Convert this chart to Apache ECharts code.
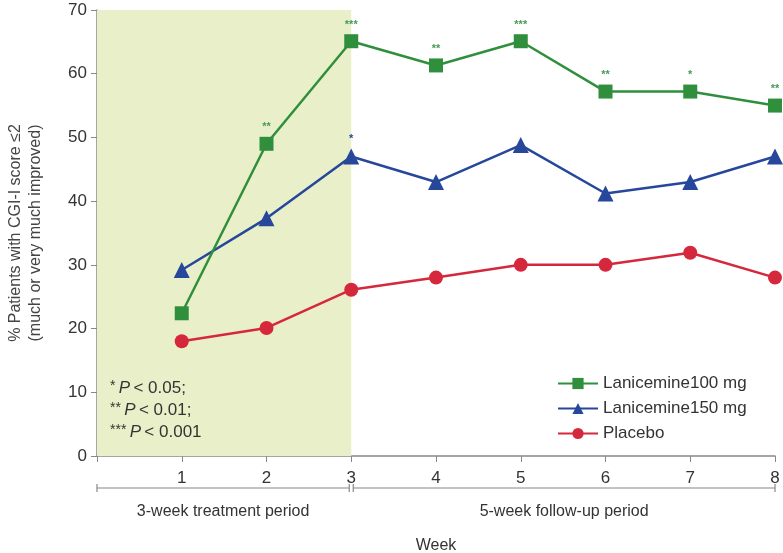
<!DOCTYPE html>
<html><head><meta charset="utf-8">
<script src="https://cdn.jsdelivr.net/npm/echarts@6/dist/echarts.min.js"></script>
<style>html,body{margin:0;padding:0;background:#fff}#c{width:783px;height:553px}</style>
</head><body><div id="c"></div>
<script>
const weeks = [1, 2, 3, 4, 5, 6, 7, 8];
const lan100 = [22.4, 49, 65.1, 61.3, 65.1, 57.2, 57.2, 55];
const lan150 = [29.2, 37.3, 47, 43, 48.8, 41.2, 43, 47];
const placebo = [18, 20.1, 26.1, 28, 30, 30, 31.9, 28];
const sig100 = ['', '**', '***', '**', '***', '**', '*', '**'];
const sig150 = ['', '', '*', '', '', '', '', ''];
const yTicks = [0, 10, 20, 30, 40, 50, 60, 70];
const periods = [
  {from: 0, to: 3, label: '3-week treatment period'},
  {from: 3, to: 8, label: '5-week follow-up period'}
];
const FONT = 'Liberation Sans, Arial, sans-serif';
const green = '#2f8f3c', blue = '#26479a', red = '#d6283c';

const chart = echarts.init(document.getElementById('c'));
function mk(vals, sig) {
  return vals.map((v, i) => ({
    value: [weeks[i], v],
    label: {show: !!(sig && sig[i]), formatter: sig ? sig[i] : ''}
  }));
}
const option = {
  animation: false,
  textStyle: {fontFamily: FONT},
  grid: {left: 97, right: 8, top: 10, bottom: 97, outerBoundsMode: 'none', containLabel: false},
  xAxis: {
    type: 'value', min: 0, max: 8, interval: 1,
    axisLine: {lineStyle: {color: '#888', width: 1.5}},
    axisTick: {show: true, length: 6, lineStyle: {color: '#888'}},
    splitLine: {show: false},
    axisLabel: {fontSize: 17, color: '#333', margin: 14, fontFamily: FONT,
      formatter: v => v === 0 ? '' : String(v)},
    name: 'Week', nameLocation: 'middle', nameGap: 82,
    nameTextStyle: {fontSize: 16, color: '#333', fontFamily: FONT}
  },
  yAxis: {
    type: 'value', min: yTicks[0], max: yTicks[yTicks.length - 1], interval: 10,
    axisLine: {show: true, lineStyle: {color: '#888', width: 1.5}},
    axisTick: {show: true, length: 6, lineStyle: {color: '#888'}},
    splitLine: {show: false},
    axisLabel: {fontSize: 17, color: '#333', margin: 10, fontFamily: FONT},
    name: '% Patients with CGI-I score ≤2\n(much or very much improved)',
    nameLocation: 'middle', nameGap: 51, nameRotate: 90,
    nameTextStyle: {fontSize: 16, color: '#444', lineHeight: 20, fontFamily: FONT}
  },
  legend: {
    orient: 'vertical', left: 552, top: 370, itemGap: 8,
    itemWidth: 40, itemHeight: 14,
    textStyle: {fontSize: 17, color: '#333', fontFamily: FONT},
    data: ['Lanicemine100 mg', 'Lanicemine150 mg', 'Placebo']
  },
  series: [
    {
      name: 'Placebo', type: 'line', data: mk(placebo, null), z: 3,
      symbol: 'circle', symbolSize: 14,
      lineStyle: {color: red, width: 2.5}, itemStyle: {color: red},
      markArea: {silent: true, itemStyle: {color: '#e9f0c9'},
        data: [[{coord: [periods[0].from, yTicks[0]]}, {coord: [periods[0].to, yTicks[yTicks.length - 1]]}]]}
    },
    {
      name: 'Lanicemine150 mg', type: 'line', data: mk(lan150, sig150), z: 4,
      symbol: 'triangle', symbolSize: 16,
      lineStyle: {color: blue, width: 2.5}, itemStyle: {color: blue},
      label: {position: 'top', distance: 4, color: blue, fontSize: 11, fontWeight: 'bold'}
    },
    {
      name: 'Lanicemine100 mg', type: 'line', data: mk(lan100, sig100), z: 5,
      symbol: 'rect', symbolSize: 14,
      lineStyle: {color: green, width: 2.5}, itemStyle: {color: green},
      label: {position: 'top', distance: 4, color: '#4a9a55', fontSize: 11, fontWeight: 'bold'}
    }
  ]
};
chart.setOption(option);

// annotation: period brackets and significance key
const g = [];
const yBr = 488;
periods.forEach((p, i) => {
  const x0 = chart.convertToPixel({xAxisIndex: 0}, p.from) + (i === 1 ? 2 : 0);
  const x1 = chart.convertToPixel({xAxisIndex: 0}, p.to) - (i === 0 ? 2 : 0);
  const st = {stroke: '#888', lineWidth: 1.2};
  g.push({type: 'line', z: 100, shape: {x1: x0, y1: yBr, x2: x1, y2: yBr}, style: st});
  g.push({type: 'line', z: 100, shape: {x1: x0, y1: yBr - 4, x2: x0, y2: yBr + 4}, style: st});
  g.push({type: 'line', z: 100, shape: {x1: x1, y1: yBr - 4, x2: x1, y2: yBr + 4}, style: st});
  g.push({type: 'text', z: 100, style: {text: p.label, x: (x0 + x1) / 2, y: yBr + 24,
    align: 'center', verticalAlign: 'middle', fontSize: 16, fill: '#333', fontFamily: FONT}});
});
const keyX = chart.convertToPixel({xAxisIndex: 0}, 0) + 13;
[['*', '0.05;'], ['**', '0.01;'], ['***', '0.001']].forEach((k, i) => {
  g.push({type: 'text', z: 100, style: {
    text: '{s|' + k[0] + '} {p|P} {n|< ' + k[1] + '}', x: keyX, y: 388 + i * 22,
    verticalAlign: 'middle',
    rich: {
      s: {fontSize: 14, fill: '#333', fontFamily: FONT, verticalAlign: 'top'},
      p: {fontSize: 17, fill: '#333', fontStyle: 'italic', fontFamily: FONT},
      n: {fontSize: 17, fill: '#333', fontFamily: FONT}
    }}});
});
chart.setOption({graphic: g});
</script></body></html>
